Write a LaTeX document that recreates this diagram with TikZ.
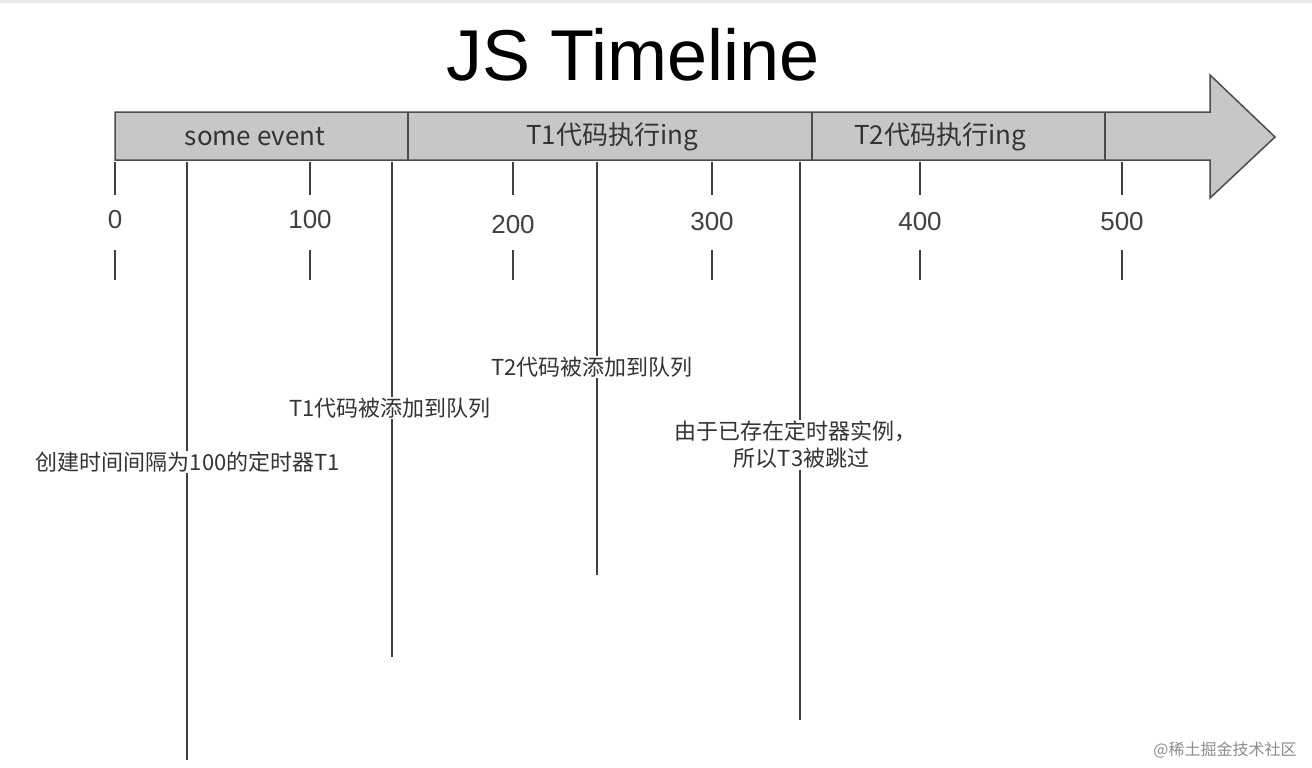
\documentclass[tikz,border=0pt]{standalone}
\usepackage{fontspec}
\setmainfont{Liberation Sans}
\newfontfamily\cjk{Noto Sans CJK SC}
\begin{document}
\begin{tikzpicture}[x=1pt,y=-1pt,
  lbl/.style={font=\cjk\fontsize{22}{27}\selectfont,text=black!80,inner sep=1pt},
  num/.style={font=\fontsize{26}{28}\selectfont,text=black!75},
  tl/.style={line width=2.5pt,draw=black!75},
  seg/.style={font=\cjk\fontsize{26}{28}\selectfont,text=black!80}]
\useasboundingbox (0,0) rectangle (1312,768);
\fill[black!8] (0,0) rectangle (1312,3);
\node[font=\fontsize{72}{80}\selectfont] (title) at (633,55) {JS Timeline};
\draw[fill=black!22,draw=black!70,line width=1.5pt,line join=miter]
  (115,112) -- (1210,112) -- (1210,75) -- (1275,137) -- (1210,198) -- (1210,160) -- (115,160) -- cycle;
\foreach \x in {408,812,1105} \draw[line width=1.5pt,draw=black!70] (\x,112) -- (\x,160);
\node[seg] (s1) at (255,137) {some event};
\node[seg] (s2) at (612,137) {T1代码执行ing};
\node[seg] (s3) at (940,137) {T2代码执行ing};
\foreach \x/\t/\y in {115/0/220,310/100/220,513/200/225,712/300/222,920/400/222,1122/500/222}{
  \draw[tl] (\x,162) -- (\x,195);
  \draw[tl] (\x,250) -- (\x,280);
  \node[num] at (\x,\y) {\t};
}
\coordinate (a0) at (187,162); \coordinate (a1) at (187,760);
\coordinate (b0) at (392,162); \coordinate (b1) at (392,657);
\coordinate (c0) at (597,162); \coordinate (c1) at (597,575);
\coordinate (d0) at (800,162); \coordinate (d1) at (800,720);
\draw[tl] (a0) -- (a1); \draw[tl] (b0) -- (b1);
\draw[tl] (c0) -- (c1); \draw[tl] (d0) -- (d1);
\node[lbl,fill=white] (la) at (188,462) {创建时间间隔为100的定时器T1};
\node[lbl,fill=white] (lb) at (390,408) {T1代码被添加到队列};
\node[lbl,fill=white] (lc) at (592,367) {T2代码被添加到队列};
\node[lbl,fill=white,align=center] (ld) at (795,445) {由于已存在定时器实例，\\\hspace*{0.6em}所以T3被跳过};
\node[font=\cjk\fontsize{16}{18}\selectfont,text=black!45] (wm) at (1225,750) {@稀土掘金技术社区};
\end{tikzpicture}
\end{document}
